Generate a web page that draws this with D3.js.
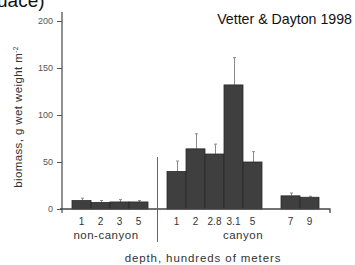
<!DOCTYPE html>
<html>
<head>
<meta charset="utf-8">
<script src="https://cdn.jsdelivr.net/npm/d3@7"></script>
<style>
  body { margin: 0; background: #fff; }
  svg { display: block; font-family: "Liberation Sans", Arial, sans-serif; }
</style>
</head>
<body>
<div id="chart"></div>
<script>
// data
const groups = ['non-canyon', 'canyon', 'canyon-deep'];
const depthLabels = ['1', '2', '3', '5', '1', '2', '2.8', '3.1', '5', '7', '9'];
const barGroup = [0, 0, 0, 0, 1, 1, 1, 1, 1, 2, 2];
const biomass = [9, 7, 7.5, 7.5, 40, 64, 58.5, 132, 50, 14, 12.5];
const errTop = [11.5, 9, 10, 9, 51, 80, 69, 161, 61, 17, 13.5];
const yTicks = [0, 50, 100, 150, 200];

const width = 355;
const height = 265;

const svg = d3
  .select('#chart')
  .append('svg')
  .attr('width', width)
  .attr('height', height);

// slot index: a blank slot between groups
const slots = biomass.map((d, i) => i + barGroup[i]);
const x = d3.scaleBand().domain(d3.range(13)).range([72, 319]).padding(0);
const y = d3.scaleLinear().domain([0, 200]).range([209, 21]);

// cut-off header text from the page above
svg.append('text')
  .attr('x', -3).attr('y', 7)
  .attr('font-size', 19)
  .attr('fill', '#111')
  .text('uace)');

svg.append('text')
  .attr('x', 352).attr('y', 24)
  .attr('text-anchor', 'end')
  .attr('font-size', 14.2)
  .attr('fill', '#111')
  .text('Vetter & Dayton 1998');

// error bars behind bars
const errG = svg.append('g').attr('stroke', '#8a8a8a').attr('stroke-width', 1);
biomass.forEach((v, i) => {
  const cx = Math.round(x(slots[i]) + x.bandwidth() / 2) + 0.5;
  errG.append('line')
    .attr('x1', cx).attr('x2', cx)
    .attr('y1', y(v)).attr('y2', y(errTop[i]));
  errG.append('line')
    .attr('x1', cx - 1.5).attr('x2', cx + 1.5)
    .attr('y1', y(errTop[i])).attr('y2', y(errTop[i]));
});

svg.append('g')
  .selectAll('rect')
  .data(biomass)
  .join('rect')
  .attr('x', (d, i) => x(slots[i]))
  .attr('y', d => y(d))
  .attr('width', x.bandwidth())
  .attr('height', d => y(0) - y(d))
  .attr('fill', '#3f3f3f')
  .attr('stroke', '#2a2a2a')
  .attr('stroke-width', 0.8);

// y axis
const yAxis = d3.axisLeft(y).tickValues(yTicks).tickSize(5).tickPadding(4);
const ya = svg.append('g').attr('transform', 'translate(62,0)').call(yAxis);
ya.select('.domain').remove();
ya.selectAll('line').attr('stroke', '#555');
ya.selectAll('text').attr('font-size', 9).attr('fill', '#555');
svg.append('line')
  .attr('x1', 62).attr('x2', 62).attr('y1', 12).attr('y2', 213)
  .attr('stroke', '#555').attr('stroke-width', 1.3);

// baseline
svg.append('path')
  .attr('d', `M60,${y(0)}H330V${y(0) + 4}`)
  .attr('fill', 'none')
  .attr('stroke', '#444').attr('stroke-width', 1.3);

// tick labels
svg.append('g')
  .selectAll('text')
  .data(depthLabels)
  .join('text')
  .attr('x', (d, i) => x(slots[i]) + x.bandwidth() / 2)
  .attr('y', 225)
  .attr('text-anchor', 'middle')
  .attr('font-size', 10)
  .attr('fill', '#333')
  .text(d => d);

// divider between non-canyon and canyon
const divX = x(4) + x.bandwidth() / 2;
svg.append('line')
  .attr('x1', divX).attr('x2', divX).attr('y1', 157).attr('y2', 242)
  .attr('stroke', '#666').attr('stroke-width', 1);

svg.append('text')
  .attr('x', 106).attr('y', 239)
  .attr('text-anchor', 'middle').attr('font-size', 11.5)
  .attr('letter-spacing', 0.5).attr('fill', '#333')
  .text(groups[0]);
svg.append('text')
  .attr('x', 243).attr('y', 239)
  .attr('text-anchor', 'middle').attr('font-size', 11.5)
  .attr('letter-spacing', 0.5).attr('fill', '#333')
  .text(groups[1]);

svg.append('text')
  .attr('x', 203).attr('y', 262)
  .attr('text-anchor', 'middle').attr('font-size', 11.5)
  .attr('letter-spacing', 0.9).attr('fill', '#333')
  .text('depth, hundreds of meters');

// y label
const yl = svg.append('text')
  .attr('transform', 'translate(22,117) rotate(-90)')
  .attr('text-anchor', 'middle').attr('font-size', 11.5)
  .attr('letter-spacing', 0.4).attr('fill', '#333');
yl.append('tspan').text('biomass, g wet weight m');
yl.append('tspan').attr('dy', -4).attr('font-size', 6.5).text('-2');
</script>
</body>
</html>
